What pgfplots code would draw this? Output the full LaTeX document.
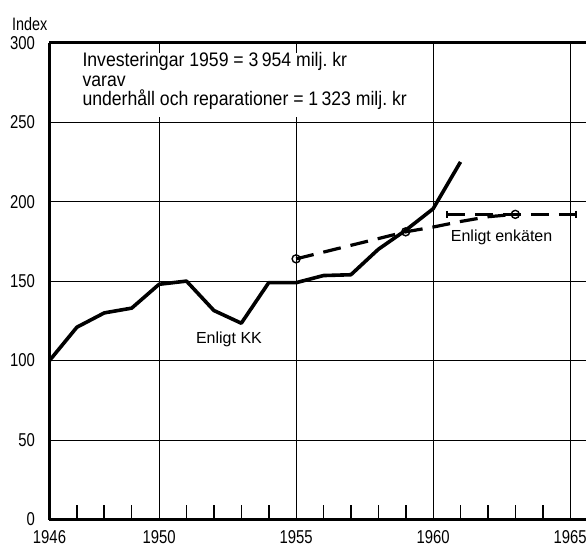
\documentclass[border=0pt]{standalone}
\usepackage{fontspec}
\setmainfont{Liberation Sans}[FakeStretch=0.8]
\newfontfamily\lbl{Liberation Sans}
\newfontfamily\ann{Liberation Sans}[FakeStretch=0.9]
\usepackage{pgfplots}
\pgfplotsset{compat=1.18}
\begin{document}
\begin{tikzpicture}
\begin{axis}[
  scale only axis, width=268.25pt, height=238.4pt,
  xmin=1946, xmax=1965.58, ymin=0, ymax=300,
  axis x line*=box, axis y line*=left,
  axis line style={line width=1.3pt},
  xtick={1946,1950,1955,1960,1965},
  xticklabels={1946,1950,1955,1960,1965},
  minor xtick={1947,1948,1949,1951,1952,1953,1954,1956,1957,1958,1959,1961,1962,1963,1964},
  ytick={0,50,100,150,200,250,300},
  yticklabels={0,50,100,150,200,250,300},
  grid=major, major grid style={line width=0.5pt, black},
  tick align=inside, xtick pos=left, ytick pos=left,
  major tick length=0pt, minor tick length=7.5pt,
  minor tick style={line width=0.8pt, black},
  tick label style={font=\fontsize{9.3}{10}\selectfont},
  xticklabel style={yshift=-2pt},
  yticklabel style={xshift=-3.75pt},
  clip=false,
]
\coordinate (bl) at (rel axis cs:0,0);
\coordinate (tr) at (rel axis cs:1,1);
% Enligt KK
\addplot[black, line width=1.8pt, line join=round, mark=none] coordinates {
 (1946,100) (1947,121) (1948,130) (1949,133) (1950,148) (1951,150)
 (1952,131.5) (1953,123.5) (1954,149) (1955,149) (1956,153.5) (1957,154)
 (1958,170) (1959,182) (1960,195.5) (1961,225)
};
% Enligt enkaten
\addplot[black, line width=1.6pt, dash pattern=on 9pt off 5pt, mark=o,
  mark size=2pt, mark indices={1,2,6}, mark options={solid, line width=0.7pt, fill=white}] coordinates {
 (1955,164) (1959,181) (1960,184) (1961,187.5) (1962,190.5) (1963,192)
};
\addplot[black, line width=1.6pt, dash pattern=on 9pt off 5pt, mark=|,
  mark size=1.8pt, mark options={solid, line width=1pt}] coordinates {
 (1960.5,192) (1965.2,192)
};
\fill[white] (axis cs:1946.8,253.5) rectangle (axis cs:1959.5,293.5);
\node[anchor=base west, inner sep=0, font=\ann\fontsize{9.8}{10}\selectfont] at (axis cs:1947.19,284.9) {Investeringar 1959 = 3\,954 milj.\ kr};
\node[anchor=base west, inner sep=0, font=\ann\fontsize{9.8}{10}\selectfont] at (axis cs:1947.19,272.7) {varav};
\node[anchor=base west, inner sep=0, font=\ann\fontsize{9.8}{10}\selectfont] at (axis cs:1947.19,260.8) {underhåll och reparationer = 1\,323 milj.\ kr};
\node[inner sep=0, font=\lbl\fontsize{8}{9}\selectfont] at (axis cs:1952.55,113.5) {Enligt KK};
\node[inner sep=0, font=\lbl\fontsize{8}{9}\selectfont] at (axis cs:1962.5,177.6) {Enligt enkäten};
\node[anchor=west, inner sep=0, font=\fontsize{9}{10}\selectfont] at (axis cs:1944.62,311.8) {Index};
\end{axis}
\pgfresetboundingbox
\path[use as bounding box] ([xshift=-24.75pt,yshift=-14.25pt]bl) rectangle ([yshift=21.35pt]tr);
\end{tikzpicture}
\end{document}
